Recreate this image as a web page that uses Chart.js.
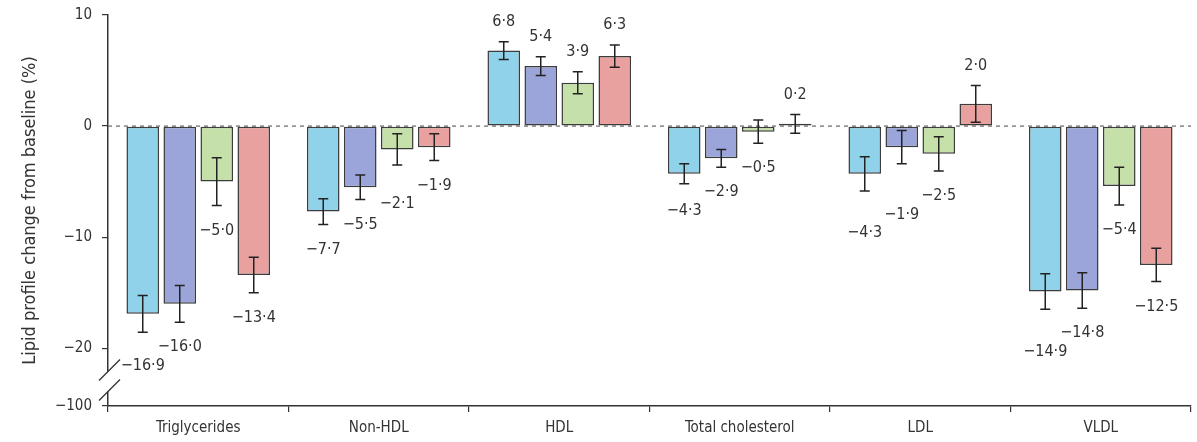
<!DOCTYPE html>
<html>
<head>
<meta charset="utf-8">
<script src="https://cdn.jsdelivr.net/npm/chart.js@4.4.1/dist/chart.umd.min.js"></script>
<style>
  html, body { margin: 0; padding: 0; background: #fff; }
</style>
</head>
<body>
<canvas id="chart" width="1197" height="442"></canvas>
<script>
const categories = ['Triglycerides', 'Non-HDL', 'HDL', 'Total cholesterol', 'LDL', 'VLDL'];

// mean % change per group
const seriesA = [-16.9, -7.7, 6.8, -4.3, -4.3, -14.9];
const seriesB = [-16.0, -5.5, 5.4, -2.9, -1.9, -14.8];
const seriesC = [-5.0, -2.1, 3.9, -0.5, -2.5, -5.4];
const seriesD = [-13.4, -1.9, 6.3, 0.2, 2.0, -12.5];

// half length of each error bar (estimated)
const errA = [1.65, 1.15, 0.8, 0.9, 1.55, 1.6];
const errB = [1.65, 1.1, 0.85, 0.8, 1.5, 1.6];
const errC = [2.15, 1.4, 1.0, 1.05, 1.55, 1.7];
const errD = [1.6, 1.2, 1.0, 0.85, 1.65, 1.5];

const yTicks = [10, 0, -10, -20];
const yBreakValue = -25.2;   // bottom of the axis, drawn as -100 after the break
const yBreakLabel = '\u2212100';

const INK = '#333';
const FONT = '"Liberation Sans Narrow", "DejaVu Sans Condensed", "Open Sans", sans-serif';

function fmt(v) {
  return (v < 0 ? '\u2212' : '') + Math.abs(v).toFixed(1).replace('.', '\u00b7');
}

const overlay = {
  id: 'overlay',
  beforeDatasetsDraw(chart) {
    const { ctx, chartArea: a, scales: { y } } = chart;
    const y0 = y.getPixelForValue(0);
    ctx.save();
    ctx.strokeStyle = '#666';
    ctx.lineWidth = 1.2;
    ctx.setLineDash([4, 4]);
    ctx.beginPath();
    ctx.moveTo(a.left, y0);
    ctx.lineTo(a.right, y0);
    ctx.stroke();
    ctx.restore();
  },
  afterDatasetsDraw(chart) {
    const { ctx, scales: { y } } = chart;
    ctx.save();
    ctx.strokeStyle = '#222';
    ctx.fillStyle = INK;
    ctx.lineWidth = 1.5;
    ctx.font = '16px ' + FONT;
    ctx.textAlign = 'center';
    ctx.textBaseline = 'middle';
    const placed = [];
    chart.data.labels.forEach((_, i) => {
      for (let d = chart.data.datasets.length - 1; d >= 0; d--) {
        const ds = chart.data.datasets[d];
        const bar = chart.getDatasetMeta(d).data[i];
        const v = ds.data[i];
        const e = ds.err[i];
        const top = y.getPixelForValue(v + e);
        const bot = y.getPixelForValue(v - e);

        ctx.beginPath();
        ctx.moveTo(bar.x, top); ctx.lineTo(bar.x, bot);
        ctx.moveTo(bar.x - 5, top); ctx.lineTo(bar.x + 5, top);
        ctx.moveTo(bar.x - 5, bot); ctx.lineTo(bar.x + 5, bot);
        ctx.stroke();

        // value label, nudged away if it runs into a neighbour
        const txt = fmt(v);
        const w = ctx.measureText(txt).width + 4;
        const h = 18;
        let ly = v >= 0 ? top - 20 : bot + 25;
        const step = v >= 0 ? -1 : 1;
        const hit = p => Math.abs(p.x - bar.x) < (p.w + w) / 2 && Math.abs(p.y - ly) < h;
        while (placed.some(hit)) ly += step;
        placed.push({ x: bar.x, y: ly, w });
        ctx.fillText(txt, bar.x, ly);
      }
    });
    ctx.restore();
  },
  afterDraw(chart) {
    // axis break between -20 and -100
    const { ctx, chartArea: a, scales: { y } } = chart;
    const x0 = a.left;
    const b1 = y.getPixelForValue(-22.1);
    const b2 = y.getPixelForValue(-23.9);
    ctx.save();
    ctx.fillStyle = '#fff';
    ctx.fillRect(x0 - 3, b1, 6, b2 - b1);
    ctx.strokeStyle = INK;
    ctx.lineWidth = 1.3;
    ctx.beginPath();
    for (const yy of [b1, b2]) {
      ctx.moveTo(x0 - 9, yy + 9);
      ctx.lineTo(x0 + 12, yy - 12);
    }
    ctx.stroke();
    ctx.restore();
  }
};

function mk(label, data, err, color) {
  return {
    label, data, err,
    backgroundColor: color,
    borderColor: '#3c3c3c',
    borderWidth: 1.5,
    borderSkipped: false,
    categoryPercentage: 0.82,
    barPercentage: 0.88
  };
}

new Chart(document.getElementById('chart'), {
  type: 'bar',
  data: {
    labels: categories,
    datasets: [
      mk('Group 1', seriesA, errA, '#8fd2ea'),
      mk('Group 2', seriesB, errB, '#9ba5d9'),
      mk('Group 3', seriesC, errC, '#c6e0a9'),
      mk('Group 4', seriesD, errD, '#e8a19e')
    ]
  },
  options: {
    responsive: false,
    animation: false,
    devicePixelRatio: 1,
    layout: { padding: { top: 15, right: 6, left: 0, bottom: 0 } },
    plugins: {
      legend: { display: false },
      tooltip: { enabled: false }
    },
    scales: {
      x: {
        grid: { offset: true, drawOnChartArea: false, tickLength: 6, color: INK, lineWidth: 1.2 },
        border: { color: INK, width: 1.5 },
        ticks: { font: { family: FONT, size: 15 }, color: INK, padding: 7 },
        afterFit: s => { s.height = 36; }
      },
      y: {
        min: yBreakValue,
        max: 10,
        afterBuildTicks: s => {
          s.ticks = yTicks.concat([yBreakValue]).map(v => ({ value: v }));
        },
        ticks: {
          font: { family: FONT, size: 15 },
          color: INK,
          padding: 10,
          callback: v => v === yBreakValue ? yBreakLabel : (v < 0 ? '\u2212' + Math.abs(v) : String(v))
        },
        grid: { drawOnChartArea: false, tickLength: 6, color: INK, lineWidth: 1.2 },
        border: { color: INK, width: 1.5 },
        title: {
          display: true,
          text: 'Lipid profile change from baseline (%)',
          font: { family: FONT, size: 18 },
          color: INK,
          padding: { top: 20, bottom: 0 }
        },
        afterFit: s => {
          s.width = 108;
          s.paddingTop = 9;
          s.paddingBottom = 9;
        }
      }
    }
  },
  plugins: [overlay]
});
</script>
</body>
</html>
